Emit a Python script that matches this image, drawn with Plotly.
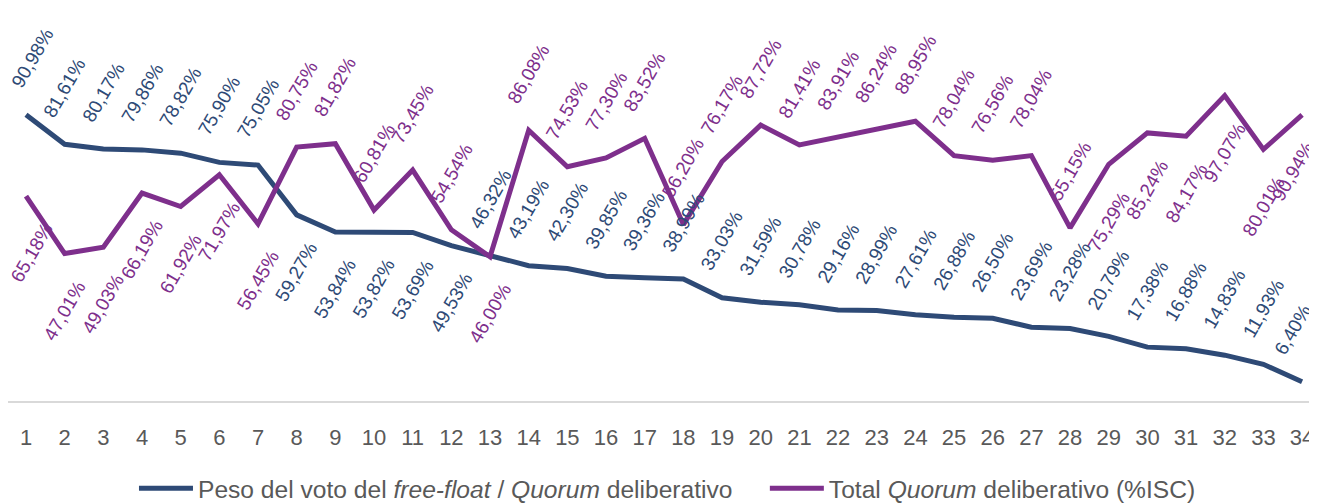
import plotly.graph_objects as go

categories = list(range(1, 35))
peso_free_float = [90.98, 81.61, 80.17, 79.86, 78.82, 75.90, 75.05, 59.27, 53.84, 53.82,
                   53.69, 49.53, 46.32, 43.19, 42.30, 39.85, 39.36, 38.99, 33.03, 31.59,
                   30.78, 29.16, 28.99, 27.61, 26.88, 26.50, 23.69, 23.28, 20.79, 17.38,
                   16.88, 14.83, 11.93, 6.40]
total_quorum = [65.18, 47.01, 49.03, 66.19, 61.92, 71.97, 56.45, 80.75, 81.82, 60.81,
                73.45, 54.54, 46.00, 86.08, 74.53, 77.30, 83.52, 56.20, 76.17, 87.72,
                81.41, 83.91, 86.24, 88.95, 78.04, 76.56, 78.04, 55.15, 75.29, 85.24,
                84.17, 97.07, 80.01, 90.94]
# label placement: 1 = above, -1 = below
peso_pos = [1]*7 + [-1]*5 + [1]*22
quorum_pos = [-1]*7 + [1]*5 + [-1] + [1]*15 + [-1]*6

BLUE = "#2E4A76"
PURPLE = "#7E2F8C"
GRAY = "#595959"
NARROW = "Liberation Sans Narrow, Arial Narrow, Liberation Sans, sans-serif"
NBSP = "\u00a0"

fig = go.Figure()
fig.add_trace(go.Scatter(x=categories, y=peso_free_float, mode="lines",
                         line=dict(color=BLUE, width=5),
                         name="Peso del voto del <i>free-float</i> / <i>Quorum</i> deliberativo" + NBSP * 4))
fig.add_trace(go.Scatter(x=categories, y=total_quorum, mode="lines",
                         line=dict(color=PURPLE, width=5),
                         name="Total <i>Quorum</i> deliberativo (%ISC)"))

def fmt(v):
    return f"{v:.2f}".replace(".", ",") + "%"

n = len(categories)
annotations = []
for xs, ys, pos, col in [(categories, peso_free_float, peso_pos, BLUE),
                         (categories, total_quorum, quorum_pos, PURPLE)]:
    for i, (x, y, p) in enumerate(zip(xs, ys, pos)):
        xs_shift = 6 if i == 0 else (-9 if i == n - 1 else 0)
        annotations.append(dict(
            x=x, y=y, xref="x", yref="y", text=fmt(y), showarrow=False,
            textangle=-60, font=dict(family="Liberation Sans, Arial, sans-serif", size=19, color=col),
            xanchor="center", yanchor="bottom" if p > 0 else "top", borderpad=0,
            xshift=xs_shift, yshift=22 if p > 0 else -22))

fig.update_layout(
    width=1309, height=495,
    margin=dict(l=0, r=0, t=0, b=101),
    paper_bgcolor="white", plot_bgcolor="white",
    annotations=annotations,
    showlegend=True,
    legend=dict(orientation="h", xref="container", yref="container",
                x=0.5038, xanchor="center", y=0.03, yanchor="middle",
                font=dict(family=NARROW, size=24.6, color=GRAY),
                itemwidth=54),
    xaxis=dict(range=[0.5345, 34.386], tickmode="array", tickvals=categories,
               ticktext=[str(c) for c in categories],
               showgrid=False, zeroline=False, showline=False,
               ticks="", ticklabelstandoff=20,
               tickfont=dict(family=NARROW, size=22, color=GRAY)),
    yaxis=dict(range=[0, 124.8], showgrid=False, zeroline=True, zerolinecolor="#D9D9D9",
               zerolinewidth=2, showticklabels=False, showline=False),
)

fig.write_html("out.html")
